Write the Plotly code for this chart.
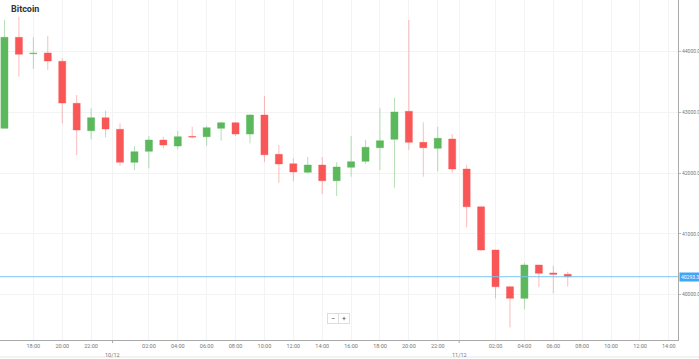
import pandas as pd
import plotly.graph_objects as go

times = [str(t) for t in pd.date_range("2023-12-09 16:00", periods=40, freq="h")]
opens = [42738, 44237, 43967, 43979, 43842, 43150, 42699, 42913, 42722, 42178,
         42359, 42545, 42447, 42605, 42600, 42738, 42830, 42644, 42957, 42310,
         42155, 42013, 42133, 41875, 42096, 42194, 42419, 42557, 43018, 42507,
         42409, 42562, 42068, 41446, 40733, 40129, 39937, 40486, 40355, 40333]
highs = [44522, 44577, 44237, 44259, 43891, 43287, 43068, 43028, 42820, 42447,
         42611, 42600, 42694, 42764, 42776, 42847, 42840, 42974, 43270, 42463,
         42244, 42265, 42265, 42178, 42611, 42545, 43068, 43242, 44522, 42837,
         42764, 42644, 42133, 41450, 40740, 40140, 40524, 40490, 40475, 40376]
lows = [42735, 43588, 43715, 43699, 42820, 42298, 42557, 42590, 42122, 42051,
        42079, 42409, 42392, 42573, 42447, 42534, 42611, 42491, 42183, 41842,
        41865, 41990, 41656, 41623, 41941, 42150, 42051, 41760, 42381, 41941,
        42030, 42007, 41107, 40717, 39937, 39460, 39756, 40119, 40020, 40129]
closes = [44237, 43957, 43975, 43847, 43155, 42710, 42913, 42727, 42178, 42353,
          42545, 42463, 42600, 42595, 42748, 42830, 42644, 42957, 42303, 42150,
          42018, 42133, 41875, 42101, 42188, 42425, 42534, 43007, 42507, 42418,
          42573, 42068, 41446, 40733, 40129, 39937, 40486, 40349, 40333, 40293.3]

x_tickvals = ["2023-12-09 18:00", "2023-12-09 20:00", "2023-12-09 22:00", "2023-12-09 23:29",
              "2023-12-10 02:00", "2023-12-10 04:00", "2023-12-10 06:00", "2023-12-10 08:00",
              "2023-12-10 10:00", "2023-12-10 12:00", "2023-12-10 14:00", "2023-12-10 16:00",
              "2023-12-10 18:00", "2023-12-10 20:00", "2023-12-10 22:00", "2023-12-10 23:29",
              "2023-12-11 02:00", "2023-12-11 04:00", "2023-12-11 06:00", "2023-12-11 08:00",
              "2023-12-11 10:00", "2023-12-11 12:00", "2023-12-11 14:00"]
x_ticktext = ["18:00", "20:00", "22:00", "",
              "02:00", "04:00", "06:00", "08:00", "10:00", "12:00", "14:00", "16:00",
              "18:00", "20:00", "22:00", "",
              "02:00", "04:00", "06:00", "08:00", "10:00", "12:00", "14:00"]
date_labels = ["10/12", "11/12"]
date_positions = ["2023-12-09 23:29", "2023-12-10 23:29"]
y_tickvals = [40000, 41000, 42000, 43000, 44000]
last_price = closes[-1]

fig = go.Figure()
fig.add_trace(go.Candlestick(
    x=times, open=opens, high=highs, low=lows, close=closes,
    increasing=dict(fillcolor="#5cb85c", line=dict(color="rgba(92,184,92,0.45)", width=1)),
    decreasing=dict(fillcolor="#f95757", line=dict(color="rgba(249,87,87,0.4)", width=1)),
    whiskerwidth=0, showlegend=False, hoverinfo="x+y",
))

fig.add_shape(type="line", xref="paper", x0=0, x1=1, yref="y", y0=last_price, y1=last_price,
              line=dict(color="#7cc3f5", width=1))
fig.add_shape(type="line", xref="paper", x0=0, x1=1.031, yref="paper", y0=-0.05, y1=-0.05,
              line=dict(color="#e6e6e6", width=1))

for d, p in zip(date_labels, date_positions):
    fig.add_annotation(xref="x", yref="paper", x=p, y=-0.03, xanchor="center", yanchor="top",
                       text=d, showarrow=False, font=dict(color="#777777", size=5.5, family="Roboto"))
    fig.add_shape(type="line", xref="x", yref="paper", x0=p, x1=p, y0=0, y1=-0.018,
                  line=dict(color="#aaaaaa", width=1, dash="dot"))

fig.add_annotation(xref="paper", yref="y", x=1.002, y=last_price, xanchor="left", yanchor="middle",
                   text=f"{last_price:.1f}", showarrow=False, bgcolor="#42a5f5",
                   font=dict(color="white", size=5, family="Roboto"), borderpad=1)
fig.add_annotation(xref="paper", yref="paper", x=0.014, y=0.995, xanchor="left", yanchor="top",
                   text="<b>Bitcoin</b>", showarrow=False,
                   font=dict(color="#333333", size=9, family="Roboto"))
fig.add_annotation(xref="paper", yref="paper", x=0.491, y=0.062, xanchor="center", yanchor="middle",
                   text="−", showarrow=False, bgcolor="white", bordercolor="#dddddd", borderwidth=1,
                   font=dict(color="#444", size=7, family="Roboto"), width=8, height=7)
fig.add_annotation(xref="paper", yref="paper", x=0.508, y=0.062, xanchor="center", yanchor="middle",
                   text="+", showarrow=False, bgcolor="white", bordercolor="#dddddd", borderwidth=1,
                   font=dict(color="#444", size=7, family="Roboto"), width=8, height=7)

fig.update_layout(
    width=699, height=359,
    margin=dict(l=0, r=21, t=0, b=19),
    paper_bgcolor="white", plot_bgcolor="white",
    font=dict(family="Roboto", color="#777777"),
    xaxis=dict(type="date", range=["2023-12-09 15:41:30", "2023-12-11 14:38"],
               tickvals=x_tickvals, ticktext=x_ticktext, tickfont=dict(size=5.5, color="#777777"),
               showgrid=True, gridcolor="#f3f3f3", gridwidth=1, automargin=False,
               showline=True, linecolor="#aaaaaa", linewidth=1,
               rangeslider=dict(visible=False), zeroline=False, ticks=""),
    yaxis=dict(side="right", range=[39251, 44852], tickvals=y_tickvals,
               tickformat=".1f", tickfont=dict(size=5, color="#777777"),
               showgrid=True, gridcolor="#f3f3f3", gridwidth=1, automargin=False,
               showline=True, linecolor="#aaaaaa", linewidth=1,
               ticks="outside", ticklen=2, tickcolor="#bbbbbb", zeroline=False),
    boxgap=0.3,
)

fig.write_html("out.html", config={"displayModeBar": False},
               post_script="document.body.style.margin='0';document.body.style.padding='0';document.body.style.overflow='hidden';")
